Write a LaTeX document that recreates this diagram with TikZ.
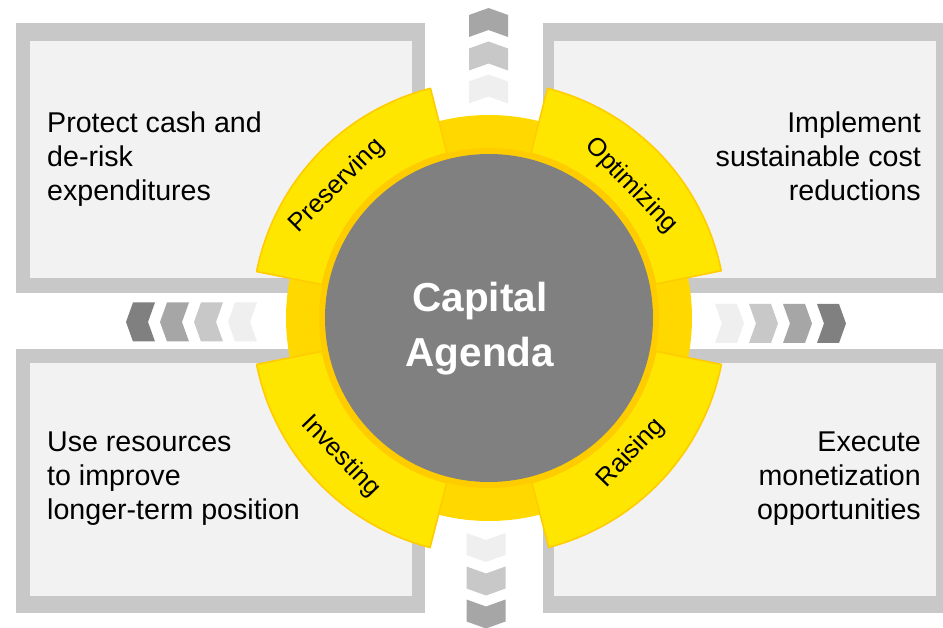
\documentclass[tikz,border=0pt]{standalone}
\usepackage{fontspec}
\setmainfont{Liberation Sans}
\usetikzlibrary{calc}

\definecolor{boxedge}{HTML}{C8C8C8}
\definecolor{boxfill}{HTML}{F2F2F2}
\definecolor{hubgray}{HTML}{808080}
\definecolor{segyellow}{HTML}{FFE600}
\definecolor{bandgold}{HTML}{FFD800}
\definecolor{rimgold}{HTML}{FFCC00}
\definecolor{chevA}{HTML}{808080}
\definecolor{chevB}{HTML}{A6A6A6}
\definecolor{chevC}{HTML}{C8C8C8}
\definecolor{chevD}{HTML}{EFEFEF}

\tikzset{
  frame/.style={fill=boxedge},
  panel/.style={fill=boxfill},
  bodytext/.style={inner sep=0pt, font=\fontsize{28.6}{34}\selectfont, text=black},
  seglabel/.style={inner sep=0pt, font=\fontsize{25.5}{30}\selectfont, text=black},
  hubtext/.style={inner sep=0pt, align=center, text=white,
    font=\fontsize{40.5}{55}\selectfont\bfseries},
  segment/.style={fill=segyellow, draw=rimgold, line width=1.6pt, line join=round}
}

\newcommand{\chevshape}{(0,14.5) -- (19.5,7.5) -- (19.5,-14.5) -- (0,-7.5) -- (-19.5,-14.5) -- (-19.5,7.5) -- cycle}

\begin{document}
\begin{tikzpicture}[x=1pt,y=1pt]
\useasboundingbox (0,0) rectangle (943,627);
\clip (0,0) rectangle (943,627);
\fill[white] (0,0) rectangle (943,627);

% four framed panels
\fill[frame] (16,604) rectangle (425,334);
\fill[panel] (30,586) rectangle (412,349);
\fill[frame] (543,604) rectangle (960,334);
\fill[panel] (554,586) rectangle (936,349);
\fill[frame] (16,278) rectangle (425,14);
\fill[panel] (30,264) rectangle (412,31);
\fill[frame] (543,278) rectangle (960,14);
\fill[panel] (554,264) rectangle (936,31);

% panel texts (anchored on the baseline of the last line)
\node[bodytext, align=left, anchor=base west] (tl) at (47,426)
  {Protect cash and\\de-risk\\expenditures};
\node[bodytext, align=right, anchor=base east] (tr) at (921,426)
  {Implement\\sustainable cost\\reductions};
\node[bodytext, align=left, anchor=base west] (bl) at (47,107)
  {Use resources\\to improve\\longer-term position};
\node[bodytext, align=right, anchor=base east] (br) at (921,107)
  {Execute\\monetization\\opportunities};

% chevron rows in the gaps between the panels
\foreach \yy/\cc in {604.5/chevB, 571/chevC, 538/chevD}
  \fill[\cc, shift={(488.5,\yy)}] \chevshape;
\foreach \yy/\cc in {79.5/chevD, 46/chevC, 13/chevB}
  \fill[\cc, shift={(486,\yy)}, rotate=180] \chevshape;
\foreach \xx/\cc in {140.5/chevA, 174.5/chevB, 208.5/chevC, 242.5/chevD}
  \fill[\cc, shift={(\xx,305)}, rotate=90] \chevshape;
\foreach \xx/\cc in {729.5/chevD, 763.5/chevC, 797.5/chevB, 831.5/chevA}
  \fill[\cc, shift={(\xx,303.5)}, rotate=-90] \chevshape;

% hub: gold band, rim and grey disc
\coordinate (C) at (489,309);
\fill[bandgold] (C) circle[radius=203];
\fill[rimgold] (C) circle[radius=170];
\fill[hubgray] (C) circle[radius=164];

% four yellow segments
\foreach \a/\b in {11.5/75.7, 104.3/168.7, 191.3/255.6, 284.6/348.7}
  \path[segment] ($(C)+(\a:170)$) -- ($(C)+(\a:237)$)
    arc[start angle=\a, end angle=\b, radius=237]
    -- ($(C)+(\b:170)$)
    arc[start angle=\b, end angle=\a, radius=170] -- cycle;

% segment labels
\node[seglabel, rotate=45] (pres) at ($(C)+(139:201)$) {Preserving};
\node[seglabel, rotate=-46] (opti) at ($(C)+(43:194)$) {Optimizing};
\node[seglabel, rotate=-46] (inve) at ($(C)+(223:203)$) {Investing};
\node[seglabel, rotate=46] (rais) at ($(C)+(-43.5:196)$) {Raising};

% centre title
\node[hubtext, anchor=base] (cap) at (480,315) {Capital};
\node[hubtext, anchor=base] (age) at (480,260) {Agenda};
\end{tikzpicture}
\end{document}
